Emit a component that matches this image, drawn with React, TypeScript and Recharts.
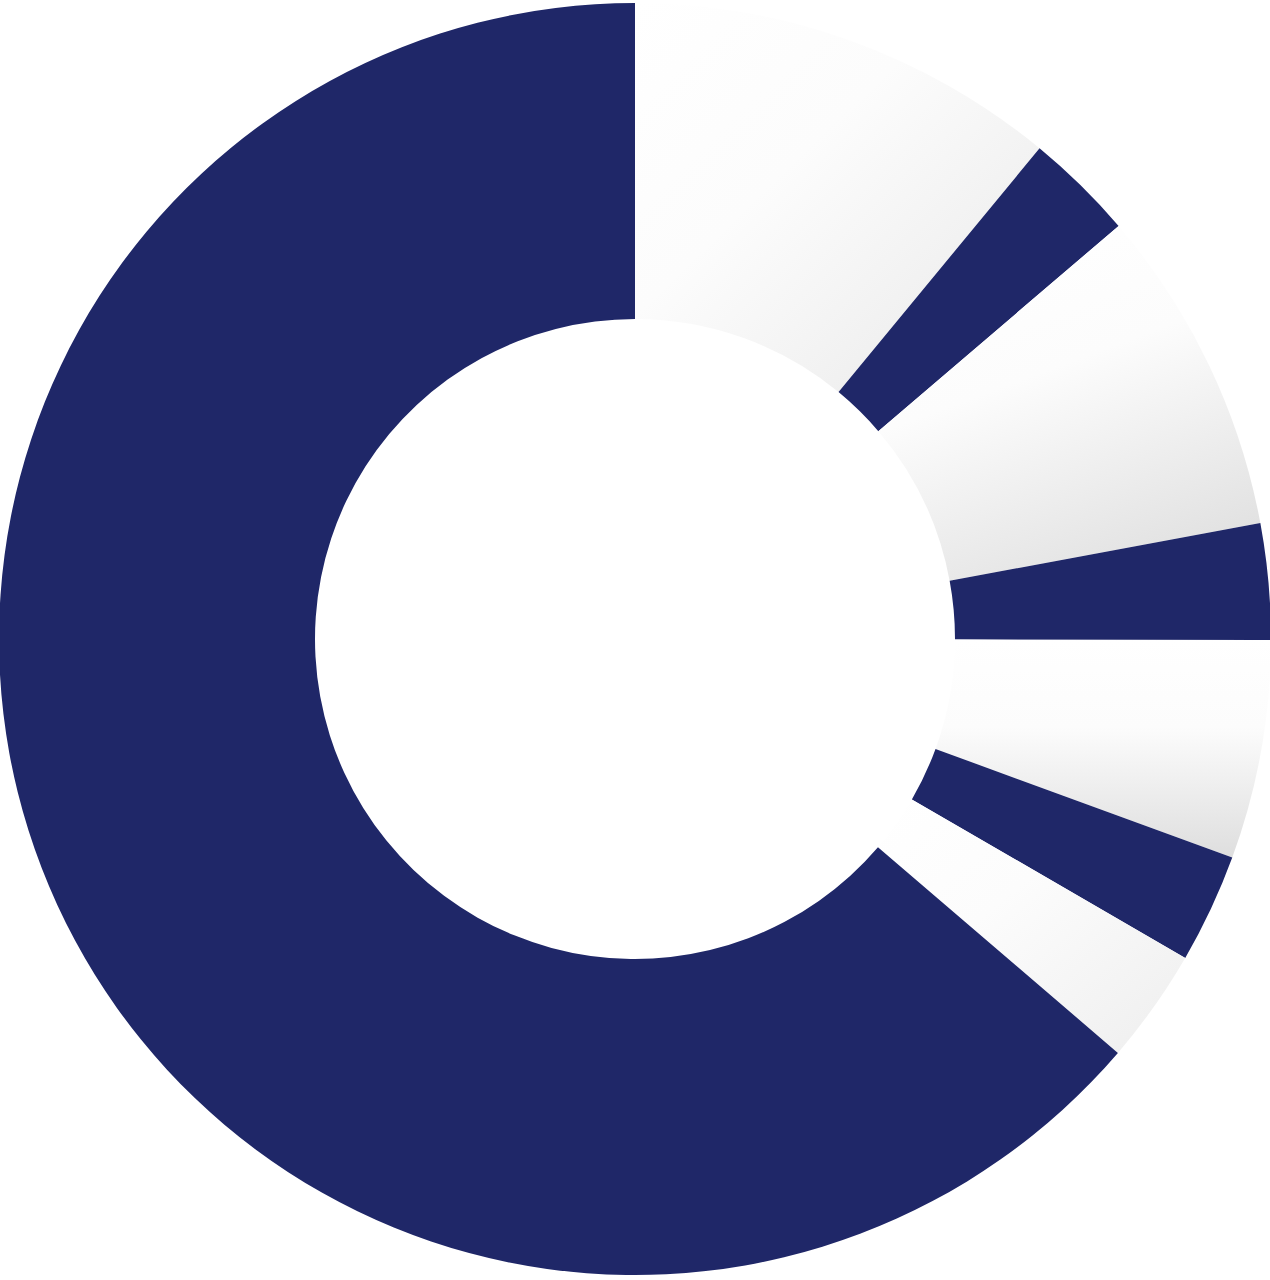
import { PieChart, Pie, Cell } from 'recharts';

// slices clockwise from 12 o'clock, values in degrees
const names = ['w1', 'n1', 'w2', 'n2', 'w3', 'n3', 'w4', 'main'];
const values = [39.5, 10, 30, 10.6, 20, 10, 10.5, 229.4];
const kinds = ['light', 'navy', 'light', 'navy', 'light', 'navy', 'light', 'navy'];

const data = names.map((name, i) => ({ name, value: values[i], kind: kinds[i] }));

const NAVY = '#1f2768';

// gradient direction per light slice (x1, y1, x2, y2, end colour)
const GRADS: Record<string, [string, string, string, string, string]> = {
    w1: ['0', '0', '1', '1', '#e8e8e8'],
    w2: ['0.3', '0', '0.7', '1', '#e0e0e0'],
    w3: ['0.5', '0', '0.5', '1', '#dedede'],
    w4: ['0', '0', '1', '1', '#eeeeee'],
};

export default function App() {
    return (
        <div style={{ position: 'absolute', left: 0, top: 0, width: 1270, height: 1280, background: '#fff' }}>
            <PieChart width={1270} height={1280} margin={{ top: 0, right: 0, bottom: 0, left: 0 }}>
                <defs>
                    {Object.entries(GRADS).map(([k, g]) => (
                        <linearGradient key={k} id={`g-${k}`} x1={g[0]} y1={g[1]} x2={g[2]} y2={g[3]}>
                            <stop offset="0%" stopColor="#ffffff" />
                            <stop offset="40%" stopColor="#fcfcfc" />
                            <stop offset="100%" stopColor={g[4]} />
                        </linearGradient>
                    ))}
                </defs>
                <Pie
                    data={data}
                    dataKey="value"
                    nameKey="name"
                    cx={635}
                    cy={639}
                    innerRadius={320}
                    outerRadius={636}
                    startAngle={90}
                    endAngle={-270}
                    stroke="none"
                    isAnimationActive={false}
                >
                    {data.map((d) => (
                        <Cell key={d.name} fill={d.kind === 'navy' ? NAVY : `url(#g-${d.name})`} />
                    ))}
                </Pie>
            </PieChart>
        </div>
    );
}
